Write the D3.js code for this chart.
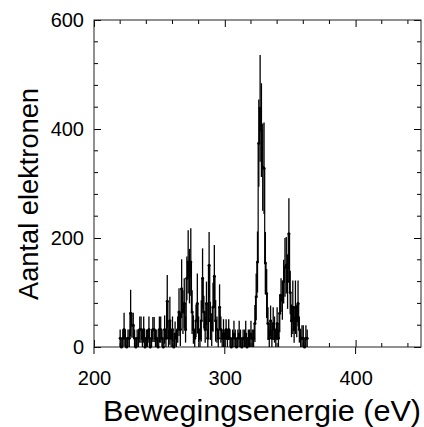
<!DOCTYPE html>
<html>
<head>
<meta charset="utf-8">
<script src="https://cdn.jsdelivr.net/npm/d3@7"></script>
<style>
    body { margin: 0; background: #fff; }
    #spectrum { width: 424px; height: 427px; }
    text { font-family: "Liberation Sans", Arial, sans-serif; fill: #000; }
</style>
</head>
<body>
<div id="spectrum"></div>
<script>

// bin centres (eV)
let energy = [
    220,221,222,223,224,225,226,227,228,229,
    230,231,232,233,234,235,236,237,238,239,
    240,241,242,243,244,245,246,247,248,249,
    250,251,252,253,254,255,256,257,258,259,
    260,261,262,263,264,265,266,267,268,269,
    270,271,272,273,274,275,276,277,278,279,
    280,281,282,283,284,285,286,287,288,289,
    290,291,292,293,294,295,296,297,298,299,
    300,301,302,303,304,305,306,307,308,309,
    310,311,312,313,314,315,316,317,318,319,
    320,321,322,323,324,325,326,327,328,329,
    330,331,332,333,334,335,336,337,338,339,
    340,341,342,343,344,345,346,347,348,349,
    350,351,352,353,354,355,356,357,358,359,
    360,361,362,363
];

// number of electrons per bin
let counts = [
    16,0,16,32,16,0,16,16,62,40,
    40,16,0,16,16,32,32,16,32,0,
    16,16,32,0,16,32,32,16,16,0,
    32,32,16,0,32,16,84,16,48,16,
    32,0,24,16,32,64,32,107,64,80,
    32,126,156,130,156,64,32,16,48,80,
    32,16,48,126,64,32,80,16,150,48,
    32,73,130,48,32,16,73,32,16,24,
    16,32,16,32,16,0,16,24,16,0,
    16,24,16,0,16,16,24,0,16,16,
    24,16,16,43,92,156,374,438,398,330,
    328,154,98,43,16,48,16,43,32,16,
    43,16,62,95,86,120,146,150,120,208,
    100,48,73,32,73,48,80,32,16,16,
    16,0,16,16
];

// error per bin
let errors = [
    16,0,16,31,16,0,16,16,43,23,
    23,16,0,16,16,24,24,16,24,0,
    16,16,24,0,16,23,23,16,16,0,
    24,24,16,0,26,16,48,16,44,16,
    24,0,23,16,24,44,30,54,40,46,
    24,40,58,50,62,40,26,16,30,55,
    24,16,38,55,30,24,40,16,61,35,
    30,45,57,38,24,16,42,24,16,27,
    16,19,16,19,16,0,16,24,16,0,
    16,24,16,0,16,16,24,0,16,16,
    24,16,16,34,43,56,80,98,86,80,
    84,57,45,30,16,28,16,30,24,16,
    30,16,35,31,36,40,54,52,50,65,
    40,30,49,24,49,30,42,24,16,24,
    24,0,24,16
];

let xMajorTicks = [200, 300, 400];
let xMinorTicks = [220, 240, 260, 280, 320, 340, 360, 380, 420, 440];
let yMajorTicks = [0, 200, 400, 600];
let yMinorTicks = [40, 80, 120, 160, 240, 280, 320, 360, 440, 480, 520, 560];


class SpectrumChart {

    constructor(parentElement) {
        this.parentElement = parentElement;
        this.displayData = [];
        this.initVis();
    }

    initVis() {
        let vis = this;

        vis.margin = {top: 20, right: 3, bottom: 80, left: 94};
        vis.width = 424 - vis.margin.left - vis.margin.right;
        vis.height = 427 - vis.margin.top - vis.margin.bottom;

        vis.svg = d3.select("#" + vis.parentElement).append("svg")
            .attr("width", 424)
            .attr("height", 427)
            .append("g")
            .attr("transform", "translate(" + vis.margin.left + "," + vis.margin.top + ")");

        vis.x = d3.scaleLinear().domain([200, 450]).range([0, vis.width]);
        vis.y = d3.scaleLinear().domain([0, 600]).range([vis.height, 0]);

        // axes with labels (ticks point inward)
        vis.svg.append("g")
            .attr("class", "x-axis")
            .attr("transform", "translate(0," + vis.height + ")")
            .call(d3.axisBottom(vis.x).tickValues(xMajorTicks).tickSize(-7).tickPadding(24));

        vis.svg.append("g")
            .attr("class", "y-axis")
            .call(d3.axisLeft(vis.y).tickValues(yMajorTicks).tickSize(-7).tickPadding(10));

        vis.svg.append("g")
            .call(d3.axisTop(vis.x).tickValues(xMajorTicks).tickSize(-7).tickFormat(""));

        vis.svg.append("g")
            .attr("transform", "translate(" + vis.width + ",0)")
            .call(d3.axisRight(vis.y).tickValues(yMajorTicks).tickSize(-7).tickFormat(""));

        vis.svg.selectAll(".domain").remove();
        vis.svg.selectAll(".tick text")
            .style("font-size", "20px")
            .style("font-family", "'Liberation Sans', Arial, sans-serif");
        vis.svg.selectAll(".tick line").attr("stroke", "#000");

        // outward part of bottom major ticks
        vis.svg.selectAll(".xout")
            .data(xMajorTicks)
            .enter().append("line")
            .attr("x1", d => vis.x(d)).attr("x2", d => vis.x(d))
            .attr("y1", vis.height).attr("y2", vis.height + 7)
            .attr("stroke", "#000");

        // minor ticks
        [0, vis.height].forEach(pos => {
            vis.svg.append("g").selectAll("line")
                .data(xMinorTicks)
                .enter().append("line")
                .attr("x1", d => vis.x(d)).attr("x2", d => vis.x(d))
                .attr("y1", pos).attr("y2", pos === 0 ? 4 : pos - 4)
                .attr("stroke", "#000");
        });
        [0, vis.width].forEach(pos => {
            vis.svg.append("g").selectAll("line")
                .data(yMinorTicks)
                .enter().append("line")
                .attr("y1", d => vis.y(d)).attr("y2", d => vis.y(d))
                .attr("x1", pos).attr("x2", pos === 0 ? 4 : pos - 4)
                .attr("stroke", "#000");
        });

        // frame
        vis.svg.append("rect")
            .attr("x", 0).attr("y", 0)
            .attr("width", vis.width).attr("height", vis.height)
            .attr("fill", "none")
            .attr("stroke", "#222")
            .attr("stroke-width", 1);

        // axis titles
        vis.svg.append("text")
            .attr("x", 262 - vis.margin.left)
            .attr("y", 421 - vis.margin.top)
            .attr("text-anchor", "middle")
            .attr("textLength", 318)
            .attr("lengthAdjust", "spacingAndGlyphs")
            .style("font-size", "30px")
            .text("Bewegingsenergie (eV)");

        vis.svg.append("text")
            .attr("transform", "translate(" + (38 - vis.margin.left) + "," + (194 - vis.margin.top) + ") rotate(-90)")
            .attr("text-anchor", "middle")
            .attr("textLength", 212)
            .attr("lengthAdjust", "spacingAndGlyphs")
            .style("font-size", "27px")
            .text("Aantal elektronen");

        vis.dataGroup = vis.svg.append("g").attr("class", "spectrum");

        vis.wrangleData();
    }

    wrangleData() {
        let vis = this;

        vis.displayData = energy.map((e, i) => ({
            energy: e,
            value: counts[i],
            error: errors[i]
        }));

        vis.updateVis();
    }

    updateVis() {
        let vis = this;

        // histogram steps
        let step = d3.line()
            .x(d => vis.x(d.energy))
            .y(d => vis.y(d.value))
            .curve(d3.curveStep);

        vis.dataGroup.append("path")
            .datum(vis.displayData)
            .attr("d", step)
            .attr("fill", "none")
            .attr("stroke", "#000")
            .attr("stroke-width", 1.2);

        // error bars
        vis.dataGroup.selectAll(".errbar")
            .data(vis.displayData.filter(d => d.error > 0))
            .enter().append("line")
            .attr("class", "errbar")
            .attr("x1", d => vis.x(d.energy))
            .attr("x2", d => vis.x(d.energy))
            .attr("y1", d => vis.y(Math.max(0, d.value - d.error)))
            .attr("y2", d => vis.y(d.value + d.error))
            .attr("stroke", "#000")
            .attr("stroke-width", 1.3);

        // points
        vis.dataGroup.selectAll(".dot")
            .data(vis.displayData)
            .enter().append("circle")
            .attr("class", "dot")
            .attr("cx", d => vis.x(d.energy))
            .attr("cy", d => vis.y(d.value))
            .attr("r", 1.5)
            .attr("fill", "#000");
    }
}

new SpectrumChart("spectrum");

</script>
</body>
</html>
